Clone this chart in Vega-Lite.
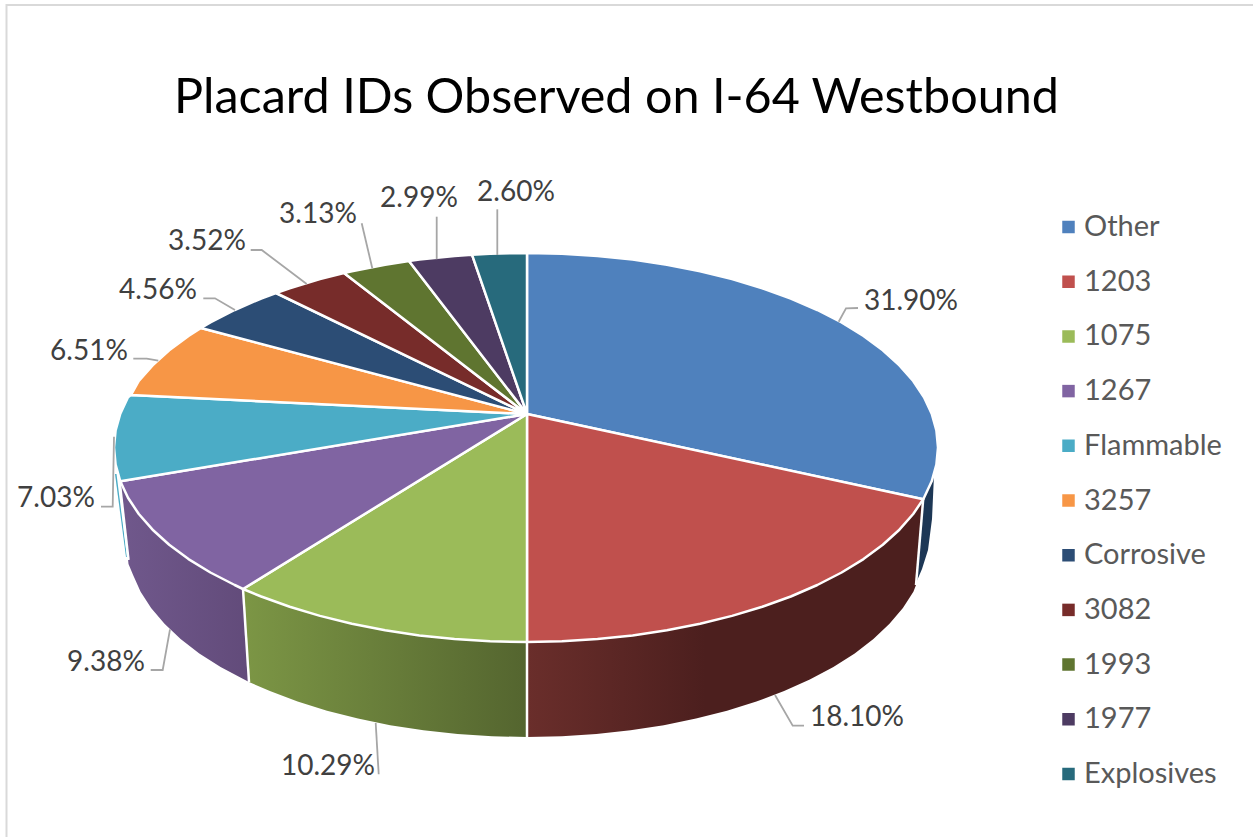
{"$schema":"https://vega.github.io/schema/vega-lite/v6.json","width":1253,"height":837,"autosize":"none","padding":0,"background":"white","config":{"view":{"stroke":null}},
"title":{"text":"Placard IDs Observed on I-64 Westbound","font":"Lato","fontSize":48.5,"fontWeight":"normal","color":"#000000","anchor":"middle","frame":"group","dx":-10,"dy":123,"offset":0},
"datasets":{
"shares":[
{"s":"Other","share":0.319,"x":384,"y":114},
{"s":"1203","share":0.181,"x":330,"y":-302},
{"s":"1075","share":0.1029,"x":-199,"y":-351},
{"s":"1267","share":0.0938,"x":-421,"y":-247},
{"s":"Flammable","share":0.0703,"x":-471,"y":-83},
{"s":"3257","share":0.0651,"x":-438,"y":64},
{"s":"Corrosive","share":0.0456,"x":-369,"y":125},
{"s":"3082","share":0.0352,"x":-320,"y":174},
{"s":"1993","share":0.0313,"x":-209,"y":201},
{"s":"1977","share":0.0299,"x":-108,"y":217},
{"s":"Explosives","share":0.026,"x":-11,"y":223}],
"top":[
{"s":"Other","x":0,"y":0},{"s":"Other","x":0,"y":161},{"s":"Other","x":34.9,"y":160.3},{"s":"Other","x":70.5,"y":158},{"s":"Other","x":105.6,"y":154.4},{"s":"Other","x":139.9,"y":149.3},{"s":"Other","x":173.1,"y":142.8},{"s":"Other","x":205,"y":134.9},{"s":"Other","x":235.3,"y":125.8},{"s":"Other","x":263.8,"y":115.5},{"s":"Other","x":290.3,"y":104},{"s":"Other","x":314.6,"y":91.5},{"s":"Other","x":336.5,"y":78.1},{"s":"Other","x":355.8,"y":63.75},{"s":"Other","x":372.4,"y":48.7},{"s":"Other","x":386.2,"y":33},{"s":"Other","x":397,"y":16.8},{"s":"Other","x":404.7,"y":0.3},{"s":"Other","x":409.4,"y":-16.5},{"s":"Other","x":411,"y":-33.5},{"s":"Other","x":409.4,"y":-50.5},{"s":"Other","x":404.7,"y":-67.3},{"s":"Other","x":397,"y":-83.8},{"s":"Other","x":396.2,"y":-85.2},{"s":"Other","x":0,"y":0},
{"s":"1203","x":0,"y":0},{"s":"1203","x":396.2,"y":-85.2},{"s":"1203","x":386.2,"y":-100},{"s":"1203","x":372.4,"y":-115.7},{"s":"1203","x":355.8,"y":-130.75},{"s":"1203","x":336.5,"y":-145.1},{"s":"1203","x":314.6,"y":-158.5},{"s":"1203","x":290.3,"y":-171},{"s":"1203","x":263.8,"y":-182.5},{"s":"1203","x":235.3,"y":-192.8},{"s":"1203","x":205,"y":-201.9},{"s":"1203","x":173.1,"y":-209.8},{"s":"1203","x":139.9,"y":-216.3},{"s":"1203","x":105.6,"y":-221.4},{"s":"1203","x":70.5,"y":-225},{"s":"1203","x":34.9,"y":-227.3},{"s":"1203","x":0,"y":-228},{"s":"1203","x":0,"y":0},
{"s":"1075","x":0,"y":0},{"s":"1075","x":0,"y":-228},{"s":"1075","x":-36.9,"y":-227.3},{"s":"1075","x":-72.5,"y":-225},{"s":"1075","x":-107.6,"y":-221.4},{"s":"1075","x":-141.9,"y":-216.3},{"s":"1075","x":-175.1,"y":-209.8},{"s":"1075","x":-207,"y":-201.9},{"s":"1075","x":-237.3,"y":-192.8},{"s":"1075","x":-265.8,"y":-182.5},{"s":"1075","x":-284,"y":-175},{"s":"1075","x":0,"y":0},
{"s":"1267","x":0,"y":0},{"s":"1267","x":-284,"y":-175},{"s":"1267","x":-292.3,"y":-171},{"s":"1267","x":-316.6,"y":-158.5},{"s":"1267","x":-338.5,"y":-145.1},{"s":"1267","x":-357.8,"y":-130.75},{"s":"1267","x":-374.4,"y":-115.7},{"s":"1267","x":-388.2,"y":-100},{"s":"1267","x":-399,"y":-83.8},{"s":"1267","x":-406.7,"y":-67.3},{"s":"1267","x":0,"y":0},
{"s":"Flammable","x":0,"y":0},{"s":"Flammable","x":-406.7,"y":-67.3},{"s":"Flammable","x":-411.4,"y":-50.5},{"s":"Flammable","x":-413,"y":-33.5},{"s":"Flammable","x":-411.4,"y":-16.5},{"s":"Flammable","x":-406.7,"y":0.3},{"s":"Flammable","x":-399,"y":16.8},{"s":"Flammable","x":-396,"y":19},{"s":"Flammable","x":0,"y":0},
{"s":"3257","x":0,"y":0},{"s":"3257","x":-396,"y":19},{"s":"3257","x":-388.2,"y":33},{"s":"3257","x":-374.4,"y":48.7},{"s":"3257","x":-357.8,"y":63.75},{"s":"3257","x":-338.5,"y":78.1},{"s":"3257","x":-326,"y":86},{"s":"3257","x":0,"y":0},
{"s":"Corrosive","x":0,"y":0},{"s":"Corrosive","x":-326,"y":86},{"s":"Corrosive","x":-316.6,"y":91.5},{"s":"Corrosive","x":-292.3,"y":104},{"s":"Corrosive","x":-265.8,"y":115.5},{"s":"Corrosive","x":-251,"y":121},{"s":"Corrosive","x":0,"y":0},
{"s":"3082","x":0,"y":0},{"s":"3082","x":-251,"y":121},{"s":"3082","x":-237.3,"y":125.8},{"s":"3082","x":-207,"y":134.9},{"s":"3082","x":-183,"y":141},{"s":"3082","x":0,"y":0},
{"s":"1993","x":0,"y":0},{"s":"1993","x":-183,"y":141},{"s":"1993","x":-175.1,"y":142.8},{"s":"1993","x":-141.9,"y":149.3},{"s":"1993","x":-118,"y":153},{"s":"1993","x":0,"y":0},
{"s":"1977","x":0,"y":0},{"s":"1977","x":-118,"y":153},{"s":"1977","x":-107.6,"y":154.4},{"s":"1977","x":-72.5,"y":158},{"s":"1977","x":-55,"y":159.3},{"s":"1977","x":0,"y":0},
{"s":"Explosives","x":0,"y":0},{"s":"Explosives","x":-55,"y":159.3},{"s":"Explosives","x":-36.9,"y":160.3},{"s":"Explosives","x":0,"y":161},{"s":"Explosives","x":0,"y":0}],
"wallRed":[{"x":396.2,"y":-85.2},{"x":386.2,"y":-100},{"x":372.4,"y":-115.7},{"x":355.8,"y":-130.75},{"x":336.5,"y":-145.1},{"x":314.6,"y":-158.5},{"x":290.3,"y":-171},{"x":263.8,"y":-182.5},{"x":235.3,"y":-192.8},{"x":205,"y":-201.9},{"x":173.1,"y":-209.8},{"x":139.9,"y":-216.3},{"x":105.6,"y":-221.4},{"x":70.5,"y":-225},{"x":34.9,"y":-227.3},{"x":0,"y":-228},{"x":0,"y":-323},{"x":34.9,"y":-322.3},{"x":69.4,"y":-320},{"x":103.5,"y":-316.3},{"x":136.8,"y":-311.2},{"x":169,"y":-304.6},{"x":200,"y":-296.7},{"x":229.4,"y":-287.6},{"x":257.1,"y":-277.1},{"x":282.8,"y":-265.6},{"x":306.4,"y":-253},{"x":327.7,"y":-239.4},{"x":346.4,"y":-225},{"x":362.5,"y":-209.8},{"x":375.9,"y":-194},{"x":386.4,"y":-177.7},{"x":389,"y":-171}],
"wallGreen":[{"x":0,"y":-228},{"x":-36.9,"y":-227.3},{"x":-72.5,"y":-225},{"x":-107.6,"y":-221.4},{"x":-141.9,"y":-216.3},{"x":-175.1,"y":-209.8},{"x":-207,"y":-201.9},{"x":-237.3,"y":-192.8},{"x":-265.8,"y":-182.5},{"x":-284,"y":-175},{"x":-278,"y":-268},{"x":-257.1,"y":-277.1},{"x":-229.4,"y":-287.6},{"x":-200,"y":-296.7},{"x":-169,"y":-304.6},{"x":-136.8,"y":-311.2},{"x":-103.5,"y":-316.3},{"x":-69.4,"y":-320},{"x":-34.9,"y":-322.3},{"x":0,"y":-323}],
"wallPurple":[{"x":-284,"y":-175},{"x":-292.3,"y":-171},{"x":-316.6,"y":-158.5},{"x":-338.5,"y":-145.1},{"x":-357.8,"y":-130.75},{"x":-374.4,"y":-115.7},{"x":-388.2,"y":-100},{"x":-399,"y":-83.8},{"x":-406.7,"y":-67.3},{"x":-398.5,"y":-150},{"x":-393.9,"y":-161},{"x":-386.4,"y":-177.7},{"x":-375.9,"y":-194},{"x":-362.5,"y":-209.8},{"x":-346.4,"y":-225},{"x":-327.7,"y":-239.4},{"x":-306.4,"y":-253},{"x":-282.8,"y":-265.6},{"x":-278,"y":-268}],
"wallBlue":[{"x":396.2,"y":-85.2},{"x":404.7,"y":-67.3},{"x":407,"y":-61},{"x":405,"y":-105},{"x":401,"y":-136},{"x":395,"y":-155},{"x":389,"y":-169}],
"wallCyan":[{"x":-410.5,"y":-60},{"x":-400,"y":-143},{"x":-401,"y":-143},{"x":-412,"y":-60}],
"seps":[{"e":"a","x":0,"y":-228},{"e":"a","x":0,"y":-323},{"e":"b","x":-284,"y":-175},{"e":"b","x":-278,"y":-268},{"e":"c","x":396.2,"y":-85.2},{"e":"c","x":389,"y":-171},{"e":"d","x":-408,"y":-62},{"e":"d","x":-398.5,"y":-146}],
"frame":[{"x":-520.5,"y":-423},{"x":-520.5,"y":409},{"x":726,"y":409}],
"leaders":[
{"s":"Other","x":311.7,"y":92.3},{"s":"Other","x":319,"y":105.7},{"s":"Other","x":331,"y":106},
{"s":"1203","x":248,"y":-281},{"s":"1203","x":265.7,"y":-311.7},{"s":"1203","x":277,"y":-311.7},
{"s":"1075","x":-151.3,"y":-309},{"s":"1075","x":-148.3,"y":-360.3},
{"s":"1267","x":-357,"y":-215.3},{"s":"1267","x":-364.3,"y":-256},{"s":"1267","x":-376.3,"y":-256},
{"s":"Flammable","x":-413,"y":-22.7},{"s":"Flammable","x":-414.3,"y":-92.7},{"s":"Flammable","x":-426,"y":-92.7},
{"s":"3257","x":-368.7,"y":53.3},{"s":"3257","x":-380.3,"y":55.3},{"s":"3257","x":-393.7,"y":55.3},
{"s":"Corrosive","x":-292,"y":104},{"s":"Corrosive","x":-312,"y":115.7},{"s":"Corrosive","x":-323.7,"y":115.7},
{"s":"3082","x":-220.3,"y":130},{"s":"3082","x":-265.3,"y":164},{"s":"3082","x":-276.3,"y":164},
{"s":"1993","x":-154.7,"y":145.7},{"s":"1993","x":-165.3,"y":190.7},
{"s":"1977","x":-90.3,"y":154.7},{"s":"1977","x":-90.3,"y":197.3},
{"s":"Explosives","x":-29.7,"y":159},{"s":"Explosives","x":-29.7,"y":204.7}]
},
"encoding":{
"x":{"field":"x","type":"quantitative","axis":null,"scale":{"domain":[-527,726],"nice":false,"zero":false}},
"y":{"field":"y","type":"quantitative","axis":null,"scale":{"domain":[-423,414],"nice":false,"zero":false}}
},
"layer":[
{"data":{"name":"frame"},"transform":[{"window":[{"op":"row_number","as":"i"}]}],"mark":{"type":"line","color":"#d9d9d9","strokeWidth":2},"encoding":{"order":{"field":"i","type":"quantitative"}}},
{"data":{"name":"wallBlue"},"transform":[{"window":[{"op":"row_number","as":"i"}]}],"mark":{"type":"line","fill":"#1d3755","stroke":null},"encoding":{"order":{"field":"i","type":"quantitative"}}},
{"data":{"name":"wallCyan"},"transform":[{"window":[{"op":"row_number","as":"i"}]}],"mark":{"type":"line","fill":"#4bacc6","stroke":null},"encoding":{"order":{"field":"i","type":"quantitative"}}},
{"data":{"name":"wallRed"},"transform":[{"window":[{"op":"row_number","as":"i"}]}],"mark":{"type":"line","stroke":null,"fill":{"gradient":"linear","x1":0,"x2":1,"y1":0,"y2":0,"stops":[{"offset":0,"color":"#6a2e2b"},{"offset":0.45,"color":"#4c1f1e"},{"offset":1,"color":"#4c1f1e"}]}},"encoding":{"order":{"field":"i","type":"quantitative"}}},
{"data":{"name":"wallGreen"},"transform":[{"window":[{"op":"row_number","as":"i"}]}],"mark":{"type":"line","stroke":null,"fill":{"gradient":"linear","x1":0,"x2":1,"y1":0,"y2":0,"stops":[{"offset":0,"color":"#7c9645"},{"offset":1,"color":"#54652f"}]}},"encoding":{"order":{"field":"i","type":"quantitative"}}},
{"data":{"name":"wallPurple"},"transform":[{"window":[{"op":"row_number","as":"i"}]}],"mark":{"type":"line","stroke":null,"fill":{"gradient":"linear","x1":0,"x2":1,"y1":0,"y2":0,"stops":[{"offset":0,"color":"#70588c"},{"offset":1,"color":"#624b7a"}]}},"encoding":{"order":{"field":"i","type":"quantitative"}}},
{"data":{"name":"seps"},"mark":{"type":"line","color":"white","strokeWidth":2.5},"encoding":{"detail":{"field":"e"},"order":{"field":"y","type":"quantitative"}}},
{"data":{"name":"top"},"transform":[{"window":[{"op":"row_number","as":"i"}]}],"mark":{"type":"line","stroke":"white","strokeWidth":2.5,"strokeJoin":"round"},
"encoding":{"order":{"field":"i","type":"quantitative"},
"fill":{"field":"s","type":"nominal","scale":{"domain":["Other","1203","1075","1267","Flammable","3257","Corrosive","3082","1993","1977","Explosives"],"range":["#4f81bd","#c0504d","#9bbb59","#8064a2","#4bacc6","#f79646","#2c4d75","#772c2a","#5f7530","#4d3b62","#276a7c"]},
"legend":{"title":null,"orient":"none","legendX":1054,"legendY":213,"symbolType":"square","symbolSize":156,"symbolStrokeWidth":0,"labelFont":"Lato","labelFontSize":29,"labelColor":"#595959","labelOffset":1,"rowPadding":25.7,"clipHeight":28,"labelLimit":190}}}},
{"data":{"name":"leaders"},"transform":[{"window":[{"op":"row_number","as":"i"}]}],"mark":{"type":"line","color":"#a6a6a6","strokeWidth":1.8},"encoding":{"detail":{"field":"s"},"order":{"field":"i","type":"quantitative"}}},
{"data":{"name":"shares"},"mark":{"type":"text","font":"Lato","fontSize":28,"color":"#404040","align":"center","baseline":"middle","dy":1.5},"encoding":{"text":{"field":"share","type":"quantitative","format":".2%"}}}
]}
